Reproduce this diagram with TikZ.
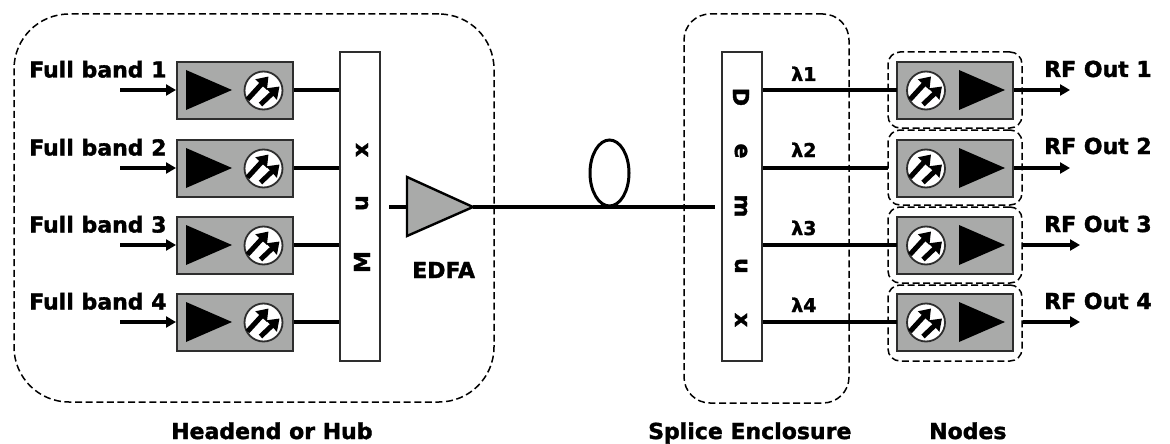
\documentclass[tikz,border=0pt]{standalone}
\usepackage{fontspec}
\setmainfont[BoldFeatures={FakeBold=1.6}]{DejaVu Sans}
\usetikzlibrary{arrows.meta,calc}
\definecolor{boxgray}{HTML}{A9AAA9}
\definecolor{edge}{HTML}{2E2E2E}
\tikzset{
  x=1pt,y=-1pt,
  lbl/.style={inner sep=0pt,anchor=base west,font=\fontsize{22}{22}\selectfont\bfseries},
  lam/.style={inner sep=0pt,anchor=base west,font=\fontsize{19}{19}\selectfont\bfseries},
  vletter/.style={inner sep=0pt,font=\fontsize{22}{22}\selectfont\bfseries},
  unitbox/.style={draw=edge,fill=boxgray,line width=2pt,minimum width=116pt,minimum height=57pt,inner sep=0pt},
  barbox/.style={draw=edge,fill=white,line width=1.8pt,minimum width=40pt,minimum height=309pt,inner sep=0pt},
  group/.style={draw=black,line width=1.5pt,dash pattern=on 7pt off 3.6pt,inner sep=0pt,fill=white},
  nodegroup/.style={group,minimum width=134pt,rounded corners=12pt},
  wire/.style={draw=black,line width=3.2pt},
  inarrow/.style={wire,-{Triangle[length=10pt,width=11pt]}},
  gaintri/.style={fill=black},
  pd/.style={circle,draw=edge,fill=white,line width=1.8pt,minimum size=38pt,inner sep=0pt},
  ray/.style={draw=black,line width=5pt,-{Triangle[length=11pt,width=15pt]}},
}
\newcommand{\photodiode}[2]{%
  \node[pd] (#1) at (#2) {};
  \draw[ray] ($(#1)+(-16,9)$) -- ($(#1)+(5,-14)$);
  \draw[ray] ($(#1)+(-3,14)$) -- ($(#1)+(16,-4)$);
}
\newcommand{\gainleft}[2]{\fill[gaintri] (#1,#2-20) -- (#1+46,#2) -- (#1,#2+20) -- cycle;}
\begin{document}
\begin{tikzpicture}
\useasboundingbox (0,0) rectangle (1170,444);

% dashed enclosures
\node[group,rounded corners=55pt,minimum width=480pt,minimum height=388pt] (hub) at (254,208) {};
\node[group,rounded corners=26pt,minimum width=165pt,minimum height=389pt] (splice) at (766.5,208.5) {};

% fibre
\coordinate (amp) at (407,207);
\coordinate (tip) at (473,207);
\coordinate (muxout) at (389,207);
\coordinate (demuxin) at (715,207);
\draw[wire] (tip) -- (demuxin);
\draw[wire] (muxout) -- (amp);
\path[draw=black,line width=3pt] (609.5,173) ellipse [x radius=19.5,y radius=33];

% EDFA
\draw[draw=black,line width=2.4pt,fill=boxgray,line join=miter] (407,177) -- (tip) -- (407,236) -- cycle;

% mux / demux
\node[barbox] (mux) at (360,206.5) {};
\node[barbox] (demux) at (742,206.5) {};
\foreach \c/\y in {x/150,u/203,M/262} \node[vletter,rotate=90] (mux\c) at (362,\y) {\c};
\foreach \c/\y [count=\i] in {D/97,e/151,m/206,u/266,x/320} \node[vletter,rotate=-90] (dem\i) at (741,\y) {\c};

% transmitters
\foreach \i/\y in {1/90,2/168,3/245,4/322}{
  \node[unitbox] (tx\i) at (235,\y+0.5) {};
  \gainleft{186}{\y}
  \photodiode{txd\i}{263.5,\y+0.5}
  \coordinate (in\i) at (120,\y);
  \draw[inarrow] (in\i) -- (tx\i.west |- in\i);
  \draw[wire] (tx\i.east |- in\i) -- (mux.west |- in\i);
  \node[lbl] (fb\i) at (29,\y-12.5) {Full band \i};
}

% receiver dashed groups
\node[nodegroup,minimum height=76pt] (g1) at (955,90) {};
\node[nodegroup,minimum height=75pt] (g2) at (955,167.5) {};
\node[nodegroup,minimum height=76pt] (g3) at (955,245) {};
\node[nodegroup,minimum height=76pt] (g4) at (955,323) {};

% receivers
\foreach \i/\y/\stop/\ox in {1/90/897/1070,2/168/888/1070,3/245/897/1080,4/322/897/1080}{
  \node[unitbox] (rx\i) at (955,\y+0.5) {};
  \fill[gaintri] (959,\y-20) -- (1005,\y) -- (959,\y+20) -- cycle;
  \photodiode{rxd\i}{926,\y+0.5}
  \coordinate (stop\i) at (\stop,\y);
  \coordinate (out\i) at (\ox,\y);
  \draw[wire] (demux.east |- stop\i) -- (stop\i);
}
\draw[inarrow] (rx1.east |- out1) -- (out1);
\draw[inarrow] (rx2.east |- out2) -- (out2);
\draw[inarrow] (g3.east |- out3) -- (out3);
\draw[inarrow] (g4.east |- out4) -- (out4);

% labels
\node[lam] (l1) at (791,81) {λ1};
\node[lam] (l2) at (791,157) {λ2};
\node[lam] (l3) at (791,235) {λ3};
\node[lam] (l4) at (791,312) {λ4};
\node[lbl] (rf1) at (1044,77) {RF Out 1};
\node[lbl] (rf2) at (1044,154) {RF Out 2};
\node[lbl] (rf3) at (1044,232) {RF Out 3};
\node[lbl] (rf4) at (1044,309) {RF Out 4};
\node[lbl] (edfa) at (412,278) {EDFA};
\node[lbl] (t1) at (171,439) {Headend or Hub};
\node[lbl] (t2) at (648,439) {Splice Enclosure};
\node[lbl] (t3) at (929,439) {Nodes};
\end{tikzpicture}
\end{document}
